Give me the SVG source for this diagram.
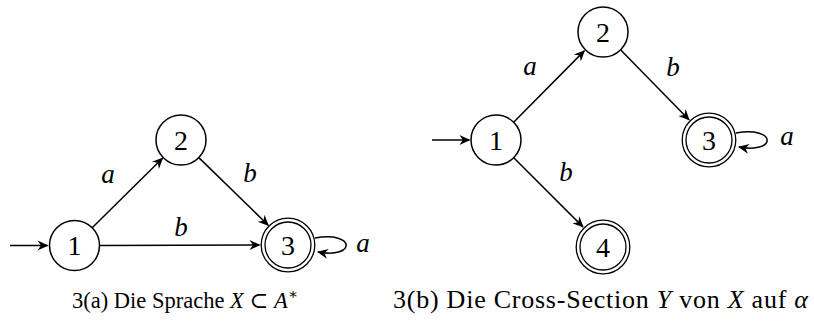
<svg xmlns="http://www.w3.org/2000/svg" width="814" height="326" viewBox="0 0 814 326">
<style>
.st{fill:#fff;stroke:#000;stroke-width:1.5}
.acc{fill:none;stroke:#000;stroke-width:1.3}
.num{font-family:'Liberation Serif','DejaVu Serif',serif;font-size:28px;text-anchor:middle;fill:#000}
.lbl{font-family:'Liberation Serif','DejaVu Serif',serif;font-style:italic;font-size:27px;text-anchor:middle;fill:#000}
.cap{font-family:'Liberation Serif','DejaVu Serif',serif;fill:#000}
.e{fill:none;stroke:#000;stroke-width:1.5;marker-end:url(#ah)}
</style>
<defs>
<marker id="ah" markerUnits="userSpaceOnUse" markerWidth="16" markerHeight="14" viewBox="-12 -7 14 14" refX="0" refY="0" orient="auto" overflow="visible">
<path d="M1,0 L-10,-5 L-6.5,0 L-10,5 Z" fill="#000"/>
</marker>
</defs>
<g id="connectors">
<line class="e" x1="10" y1="245.5" x2="47.5" y2="245.5"/>
<line class="e" x1="92.2" y1="227.8" x2="162.5" y2="158.3"/>
<line class="e" x1="198.8" y1="157.6" x2="268.2" y2="225.2"/>
<line class="e" x1="99.8" y1="245.4" x2="259.5" y2="245"/>
<path class="e" d="M315,238 C356,231 356,259 318,252"/>
<line class="e" x1="432" y1="140" x2="469.4" y2="140"/>
<line class="e" x1="513.6" y1="122.2" x2="584.3" y2="50.9"/>
<line class="e" x1="620.5" y1="49.8" x2="689" y2="119.7"/>
<line class="e" x1="513.7" y1="157.7" x2="582.9" y2="226.9"/>
<path class="e" d="M736,133 C777,126 777,154 739,147"/>
</g>
<g id="labels">
<text class="lbl" x="108" y="183">a</text>
<text class="lbl" x="250" y="182">b</text>
<text class="lbl" x="181" y="236">b</text>
<text class="lbl" x="363" y="252">a</text>
<text class="lbl" x="530" y="75">a</text>
<text class="lbl" x="673" y="76">b</text>
<text class="lbl" x="566" y="181">b</text>
<text class="lbl" x="787" y="145">a</text>
</g>
<g id="a1"><circle class="st" cx="74.5" cy="245.5" r="25"/><text class="num" x="74.5" y="255">1</text></g>
<g id="a2"><circle class="st" cx="181" cy="140" r="25"/><text class="num" x="181" y="149.5">2</text></g>
<g id="a3"><circle class="acc" cx="288" cy="245" r="26.8"/><circle class="acc" cx="288" cy="245" r="23"/><text class="num" x="288" y="254.5">3</text></g>
<g id="b1"><circle class="st" cx="496" cy="140" r="25"/><text class="num" x="496" y="149.5">1</text></g>
<g id="b2"><circle class="st" cx="603" cy="32" r="25"/><text class="num" x="603" y="41.5">2</text></g>
<g id="b3"><circle class="acc" cx="709" cy="140" r="26.8"/><circle class="acc" cx="709" cy="140" r="23"/><text class="num" x="709" y="149.5">3</text></g>
<g id="b4"><circle class="acc" cx="603" cy="247" r="26.8"/><circle class="acc" cx="603" cy="247" r="23"/><text class="num" x="603" y="256.5">4</text></g>
<g id="captions">
<text class="cap" x="72" y="308" font-size="22.5">3(a) Die Sprache <tspan font-style="italic">X</tspan> ⊂ <tspan font-style="italic">A</tspan><tspan font-size="15" dy="-9">∗</tspan></text>
<text class="cap" x="393" y="308" font-size="26" textLength="415" lengthAdjust="spacing">3(b) Die Cross-Section <tspan font-style="italic">Y</tspan> von <tspan font-style="italic">X</tspan> auf <tspan font-style="italic">α</tspan></text>
</g>
</svg>
